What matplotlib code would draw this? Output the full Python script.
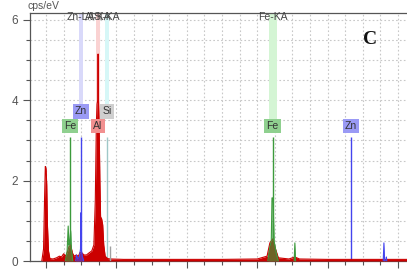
import matplotlib.pyplot as plt
from matplotlib.ticker import MultipleLocator, NullFormatter

# spectrum (energy keV, cps/eV)
spec_e = [-0.12, -0.07, -0.04, -0.02, 0.0, 0.02, 0.04, 0.07, 0.11, 0.2, 0.3, 0.38, 0.44, 0.5, 0.55,
          0.6, 0.65, 0.7, 0.75, 0.8, 0.86, 0.92, 0.97, 1.02, 1.08, 1.15, 1.22, 1.3, 1.36, 1.4,
          1.43, 1.45, 1.47, 1.48, 1.49, 1.51, 1.53, 1.55, 1.58, 1.61, 1.64, 1.68, 1.75, 1.85, 2.2,
          3.0, 4.0, 5.0, 6.0, 6.28, 6.36, 6.44, 6.52, 6.6, 6.9, 7.07, 7.2, 8.0, 9.0, 10.3]
spec_c = [0.0, 0.3, 1.6, 2.35, 2.3, 1.9, 0.9, 0.25, 0.06, 0.05, 0.08, 0.12, 0.1, 0.18, 0.12,
          0.2, 0.35, 0.4, 0.2, 0.12, 0.15, 0.12, 0.22, 0.2, 0.15, 0.15, 0.2, 0.25, 0.4, 1.5,
          3.4, 3.9, 4.0, 5.15, 4.0, 3.3, 2.0, 1.1, 1.05, 0.9, 0.4, 0.12, 0.06, 0.05, 0.04,
          0.04, 0.04, 0.04, 0.05, 0.12, 0.45, 0.55, 0.3, 0.08, 0.05, 0.1, 0.05, 0.04, 0.04, 0.04]

# fitted element peaks
feL_e = [0.55, 0.6, 0.63, 0.65, 0.67, 0.7, 0.72, 0.76]
feL_c = [0, 0.25, 0.87, 0.4, 0.45, 0.75, 0.3, 0]
feK_e = [6.3, 6.36, 6.4, 6.42, 6.45, 6.48, 6.54, 6.6]
feK_c = [0, 0.35, 0.5, 1.57, 1.57, 0.5, 0.2, 0]
feKb_e = [7.05, 7.07, 7.09]
feKb_c = [0, 0.45, 0]
znL_e = [0.84, 0.87, 0.9, 0.95, 0.98, 0.99, 1.0, 1.03, 1.07]
znL_c = [0, 0.15, 0.05, 0.1, 0.3, 1.2, 0.3, 0.12, 0]
znKb_e = [9.58, 9.6, 9.62, 9.66, 9.67, 9.68]
znKb_c = [0, 0.45, 0, 0, 0.1, 0]
si_e, si_c = 1.82, 0.37

# element markers
mark_el = ['Fe', 'Zn', 'Al', 'Si', 'Fe', 'Zn']
mark_e = [0.68, 0.99, 1.48, 1.73, 6.44, 8.66]
mark_row = [2, 1, 2, 1, 2, 2]
mark_line = ['#3c9a3c', '#4444ee', '#cc0000', '#9fc8c8', '#3c9a3c', '#4444ee']
mark_box = ['#8fd08f', '#9a9af5', '#f29090', '#cfcfcf', '#8fd08f', '#9a9af5']
top_lbl = ['Zn-LA', 'Al-KA', 'Si-KA', 'Fe-KA']
top_e = [0.99, 1.48, 1.73, 6.44]
top_band = ['#d9d9fa', '#fad2d2', '#d6f7f7', '#d4f5d4']
top_w = [0.11, 0.1, 0.1, 0.22]
top_bot = [3.88, 3.53, 3.88, 3.53]

fig = plt.figure(figsize=(4.07, 2.70), dpi=100)
ax = fig.add_axes([30/407, 9/270, 377/407, 248/270])
ax.set_xlim(-0.455, 10.256)
ax.set_ylim(0, 6.17)

# bands at the top
for e, w, c, b in zip(top_e, top_w, top_band, top_bot):
    ax.bar(e, 6.17 - b, bottom=b, width=w, color=c, zorder=1)
for t, e in zip(top_lbl, top_e):
    ax.text(e, 6.06, t, ha='center', va='center', fontsize=7.5, color='#444444',
            family='Liberation Sans', zorder=6)

# spectrum
ax.fill_between(spec_e, spec_c, color='#cc0000', lw=0, zorder=3)
ax.plot(spec_e, spec_c, color='#cc0000', lw=0.8, zorder=3)
for xs, ys, c in [(feL_e, feL_c, '#3c9a3c'), (feK_e, feK_c, '#3c9a3c'), (feKb_e, feKb_c, '#3c9a3c'),
                  (znL_e, znL_c, '#4444ee'), (znKb_e, znKb_c, '#4444ee')]:
    ax.fill_between(xs, ys, color=c, alpha=0.65, lw=0, zorder=4)
    ax.plot(xs, ys, color=c, lw=0.8, zorder=4)
ax.vlines(si_e, 0, si_c, color='#a0a0a0', lw=1, zorder=4)

# marker lines and boxes
for el, e, r, lc, bc in zip(mark_el, mark_e, mark_row, mark_line, mark_box):
    if el != 'Al':
        ax.vlines(e, 0, 3.08, color=lc, lw=1, zorder=2)
    y = 3.72 if r == 1 else 3.36
    ax.text(e, y, el, ha='center', va='center', fontsize=7.5, color='#333333',
            family='Liberation Sans', zorder=7,
            bbox=dict(boxstyle='square,pad=0.2', fc=bc, ec='none'))

ax.text(9.2, 5.5, 'C', fontsize=14, fontweight='bold', family='Liberation Serif',
        ha='center', va='center', color='#111111')

# axes styling
ax.xaxis.set_major_locator(MultipleLocator(2))
ax.xaxis.set_minor_locator(MultipleLocator(0.5))
ax.xaxis.set_major_formatter(NullFormatter())
ax.yaxis.set_major_locator(MultipleLocator(2))
ax.yaxis.set_minor_locator(MultipleLocator(0.5))
ax.tick_params(axis='both', which='major', length=5, width=0.8, color='#555555',
               labelsize=8.5, labelcolor='#555555')
ax.tick_params(axis='both', which='minor', length=3, width=0.8, color='#555555')
for lb in ax.get_yticklabels():
    lb.set_family('Liberation Sans')
ax.grid(which='both', color='#c8c8c8', linestyle=(0, (1.5, 2)), lw=0.8, zorder=0)
ax.set_axisbelow(True)
ax.spines['right'].set_visible(False)
for s in ['left', 'top', 'bottom']:
    ax.spines[s].set_color('#555555')
    ax.spines[s].set_linewidth(0.9)
fig.text(28/407, 1 - 6/270, 'cps/eV', fontsize=7.5, color='#555555', family='Liberation Sans',
         ha='left', va='center')

fig.savefig('out.png', dpi=100)
